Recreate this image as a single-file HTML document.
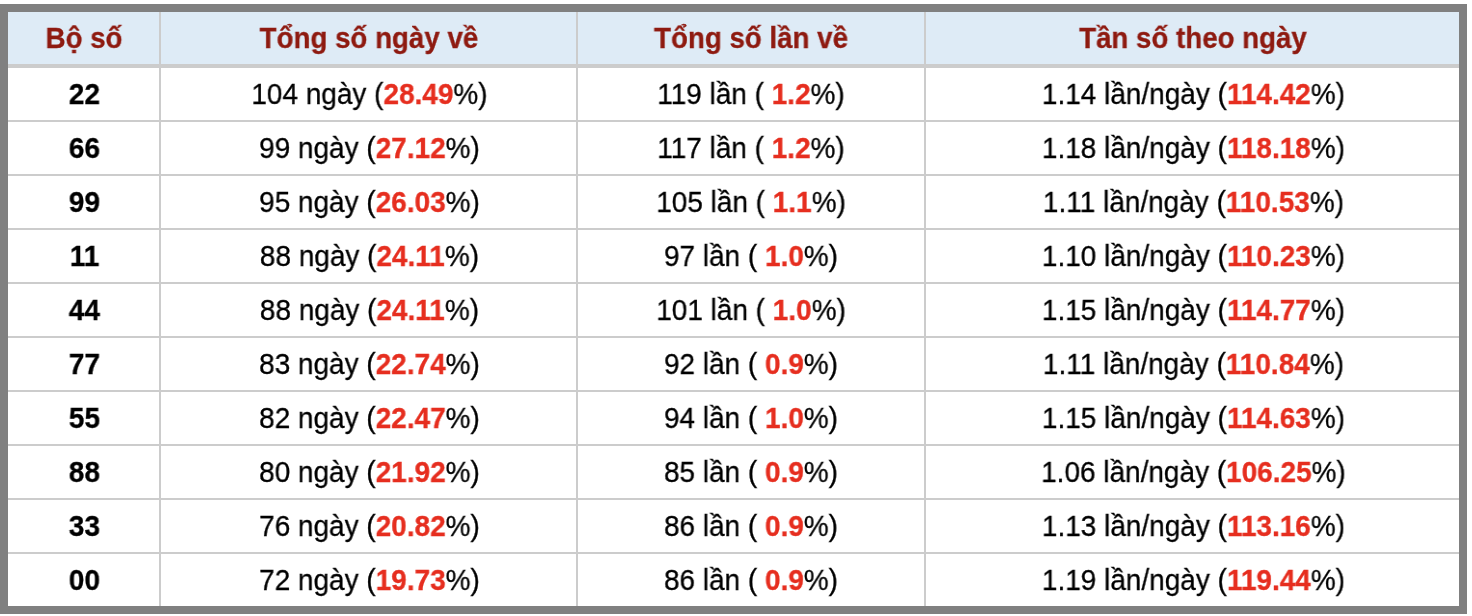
<!DOCTYPE html>
<html><head><meta charset="utf-8"><title>t</title>
<style>
html,body{margin:0;padding:0;background:#fff;}
body{width:1472px;height:616px;position:relative;overflow:hidden;font-family:"Liberation Sans",sans-serif;}
#f{position:absolute;left:0;top:4px;width:1467px;height:610px;background:#808080;}
#in{position:absolute;left:8px;top:12px;width:1451px;height:594px;background:#fff;}
#hd{position:absolute;left:8px;top:12px;width:1451px;height:52px;background:#deebf6;}
.h{position:absolute;background:#ccc;left:8px;width:1451px;height:2px;}
.v{position:absolute;background:#ccc;top:12px;width:2px;height:594px;}
.c{position:absolute;height:52px;line-height:52px;will-change:transform;-webkit-text-stroke:0.3px;box-sizing:border-box;padding-left:2px;text-align:center;font-size:29px;transform:scaleX(0.964);color:#000;white-space:pre;}
.th{font-weight:bold;color:#8e1a10;top:12px;transform:scaleX(0.955);padding-left:1px;}
.c b{color:#e62e1f;}
</style></head><body>
<div id="f"></div><div id="in"></div><div id="hd"></div>

<div class="h" style="top:64px;height:4px"></div>
<div class="h" style="top:120px"></div>
<div class="h" style="top:174px"></div>
<div class="h" style="top:228px"></div>
<div class="h" style="top:282px"></div>
<div class="h" style="top:336px"></div>
<div class="h" style="top:390px"></div>
<div class="h" style="top:444px"></div>
<div class="h" style="top:498px"></div>
<div class="h" style="top:552px"></div>
<div class="v" style="left:159px"></div>
<div class="v" style="left:576px"></div>
<div class="v" style="left:924px"></div>
<div class="c th" style="left:8px;width:151px">Bộ số</div>
<div class="c th" style="left:161px;width:415px">Tổng số ngày về</div>
<div class="c th" style="left:578px;width:346px;padding-left:0">Tổng số lần về</div>
<div class="c th" style="left:926px;width:533px">Tần số theo ngày</div>
<div class="c" style="top:68px;left:8px;width:151px"><b style="color:#000">22</b></div>
<div class="c" style="top:68px;left:161px;width:415px">104 ngày (<b>28.49</b>%)</div>
<div class="c" style="top:68px;left:578px;width:346px;padding-left:0">119 lần ( <b>1.2</b>%)</div>
<div class="c" style="top:68px;left:926px;width:533px">1.14 lần/ngày (<b>114.42</b>%)</div>
<div class="c" style="top:122px;left:8px;width:151px"><b style="color:#000">66</b></div>
<div class="c" style="top:122px;left:161px;width:415px">99 ngày (<b>27.12</b>%)</div>
<div class="c" style="top:122px;left:578px;width:346px;padding-left:0">117 lần ( <b>1.2</b>%)</div>
<div class="c" style="top:122px;left:926px;width:533px">1.18 lần/ngày (<b>118.18</b>%)</div>
<div class="c" style="top:176px;left:8px;width:151px"><b style="color:#000">99</b></div>
<div class="c" style="top:176px;left:161px;width:415px">95 ngày (<b>26.03</b>%)</div>
<div class="c" style="top:176px;left:578px;width:346px;padding-left:0">105 lần ( <b>1.1</b>%)</div>
<div class="c" style="top:176px;left:926px;width:533px">1.11 lần/ngày (<b>110.53</b>%)</div>
<div class="c" style="top:230px;left:8px;width:151px"><b style="color:#000">11</b></div>
<div class="c" style="top:230px;left:161px;width:415px">88 ngày (<b>24.11</b>%)</div>
<div class="c" style="top:230px;left:578px;width:346px;padding-left:0">97 lần ( <b>1.0</b>%)</div>
<div class="c" style="top:230px;left:926px;width:533px">1.10 lần/ngày (<b>110.23</b>%)</div>
<div class="c" style="top:284px;left:8px;width:151px"><b style="color:#000">44</b></div>
<div class="c" style="top:284px;left:161px;width:415px">88 ngày (<b>24.11</b>%)</div>
<div class="c" style="top:284px;left:578px;width:346px;padding-left:0">101 lần ( <b>1.0</b>%)</div>
<div class="c" style="top:284px;left:926px;width:533px">1.15 lần/ngày (<b>114.77</b>%)</div>
<div class="c" style="top:338px;left:8px;width:151px"><b style="color:#000">77</b></div>
<div class="c" style="top:338px;left:161px;width:415px">83 ngày (<b>22.74</b>%)</div>
<div class="c" style="top:338px;left:578px;width:346px;padding-left:0">92 lần ( <b>0.9</b>%)</div>
<div class="c" style="top:338px;left:926px;width:533px">1.11 lần/ngày (<b>110.84</b>%)</div>
<div class="c" style="top:392px;left:8px;width:151px"><b style="color:#000">55</b></div>
<div class="c" style="top:392px;left:161px;width:415px">82 ngày (<b>22.47</b>%)</div>
<div class="c" style="top:392px;left:578px;width:346px;padding-left:0">94 lần ( <b>1.0</b>%)</div>
<div class="c" style="top:392px;left:926px;width:533px">1.15 lần/ngày (<b>114.63</b>%)</div>
<div class="c" style="top:446px;left:8px;width:151px"><b style="color:#000">88</b></div>
<div class="c" style="top:446px;left:161px;width:415px">80 ngày (<b>21.92</b>%)</div>
<div class="c" style="top:446px;left:578px;width:346px;padding-left:0">85 lần ( <b>0.9</b>%)</div>
<div class="c" style="top:446px;left:926px;width:533px">1.06 lần/ngày (<b>106.25</b>%)</div>
<div class="c" style="top:500px;left:8px;width:151px"><b style="color:#000">33</b></div>
<div class="c" style="top:500px;left:161px;width:415px">76 ngày (<b>20.82</b>%)</div>
<div class="c" style="top:500px;left:578px;width:346px;padding-left:0">86 lần ( <b>0.9</b>%)</div>
<div class="c" style="top:500px;left:926px;width:533px">1.13 lần/ngày (<b>113.16</b>%)</div>
<div class="c" style="top:554px;left:8px;width:151px"><b style="color:#000">00</b></div>
<div class="c" style="top:554px;left:161px;width:415px">72 ngày (<b>19.73</b>%)</div>
<div class="c" style="top:554px;left:578px;width:346px;padding-left:0">86 lần ( <b>0.9</b>%)</div>
<div class="c" style="top:554px;left:926px;width:533px">1.19 lần/ngày (<b>119.44</b>%)</div>
</body></html>
